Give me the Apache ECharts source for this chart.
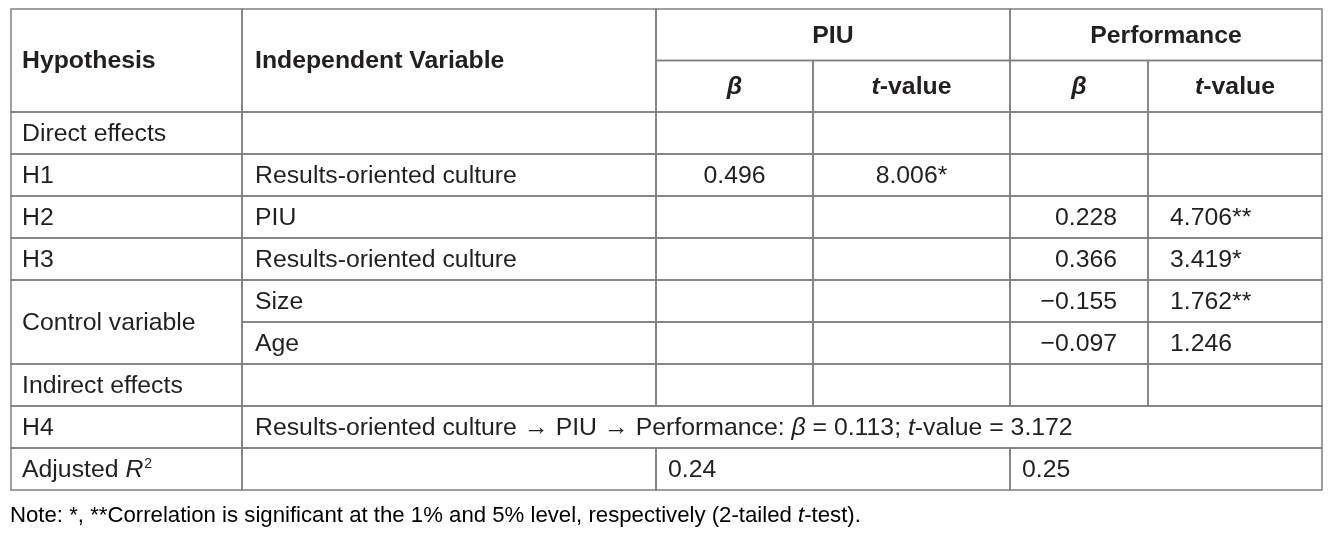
<!DOCTYPE html>
<html><head><meta charset="utf-8">
<script src="https://cdn.jsdelivr.net/npm/echarts@6/dist/echarts.min.js"></script>
<style>html,body{margin:0;padding:0;background:#fff}#c{width:1341px;height:535px}</style>
</head><body><div id="c"></div>
<script>
// ---------------- data ----------------
const stubHeaders = ['Hypothesis', 'Independent Variable'];
const groupHeaders = ['PIU', 'Performance'];
const statHeaders = ['{bi|β}', '{bi|t}{b|-value}'];
const rowLabels = ['Direct effects', 'H1', 'H2', 'H3', 'Control variable', null, 'Indirect effects', 'H4', 'Adjusted {i|R}{sup|2}'];
const rowLabelSpans = [1, 1, 1, 1, 2, 0, 1, 1, 1];
const independentVars = ['', 'Results-oriented culture', 'PIU', 'Results-oriented culture', 'Size', 'Age', ''];
const piuBeta = [null, 0.496, null, null, null, null, null];
const piuT = [null, 8.006, null, null, null, null, null];
const piuTSig = ['', '*', '', '', '', '', ''];
const perfBeta = [null, null, 0.228, 0.366, -0.155, -0.097, null];
const perfT = [null, null, 4.706, 3.419, 1.762, 1.246, null];
const perfTSig = ['', '', '**', '*', '**', '', ''];
const indirectPath = ['Results-oriented culture', 'PIU', 'Performance'];
const indirectBeta = 0.113;
const indirectT = 3.172;
const adjustedR2 = [0.24, 0.25];
const noteText = 'Note: *, **Correlation is significant at the 1% and 5% level, respectively (2-tailed {i|t}-test).';

// ---------------- layout / style ----------------
const colWidths = [231, 414, 157, 197, 138, 174];
const headerRowH = 51.5, bodyRowH = 42;
const LINE = '#808080', INK = '#231f20';
const FONT = 'Liberation Sans, Arial, Helvetica, sans-serif';
const FS = 24.8;

const xEdges = [0]; colWidths.forEach(w => xEdges.push(xEdges[xEdges.length - 1] + w));
const nBody = rowLabels.length;
const yEdges = [0, headerRowH, 2 * headerRowH];
for (let i = 0; i < nBody; i++) yEdges.push(yEdges[yEdges.length - 1] + bodyRowH);

const fmt = v => (v == null ? '' : (v < 0 ? '\u2212' : '') + Math.abs(v).toFixed(3));
const fmt2 = v => v.toFixed(2);

const rich = {
  b: { fontFamily: FONT, fontSize: FS, fontWeight: 'bold', color: INK },
  bi: { fontFamily: FONT, fontSize: FS, fontWeight: 'bold', fontStyle: 'italic', color: INK },
  n: { fontFamily: FONT, fontSize: FS, color: INK },
  i: { fontFamily: FONT, fontSize: FS, fontStyle: 'italic', color: INK },
  ar: { fontFamily: 'Liberation Serif, DejaVu Serif, serif', fontSize: 25, color: INK },
  sup: { fontFamily: FONT, fontSize: 14, color: INK, verticalAlign: 'top', padding: [0, 0, 0, 1] }
};

const cells = [];
function cell(c0, c1, r0, r1, text, align, pad, bold) {
  cells.push({ c0, c1, r0, r1, text: text || '', align: align || 'left', pad: pad == null ? 12 : pad, bold: !!bold });
}
// header
cell(0, 1, 0, 2, stubHeaders[0], 'left', 11, true);
cell(1, 2, 0, 2, stubHeaders[1], 'left', 13, true);
cell(2, 4, 0, 1, groupHeaders[0], 'center', 0, true);
cell(4, 6, 0, 1, groupHeaders[1], 'center', 0, true);
for (let g = 0; g < 2; g++) {
  cell(2 + 2 * g, 3 + 2 * g, 1, 2, statHeaders[0], 'center', 0);
  cell(3 + 2 * g, 4 + 2 * g, 1, 2, statHeaders[1], 'center', 0);
}
// body
for (let i = 0; i < nBody; i++) {
  const r = i + 2;
  if (rowLabelSpans[i] > 0) cell(0, 1, r, r + rowLabelSpans[i], rowLabels[i], 'left', 11);
  if (i < independentVars.length) {
    cell(1, 2, r, r + 1, independentVars[i], 'left', 13);
    cell(2, 3, r, r + 1, fmt(piuBeta[i]), 'center', 0);
    cell(3, 4, r, r + 1, piuT[i] == null ? '' : fmt(piuT[i]) + piuTSig[i], 'center', 0);
    cell(4, 5, r, r + 1, fmt(perfBeta[i]), 'right', 31);
    cell(5, 6, r, r + 1, perfT[i] == null ? '' : fmt(perfT[i]) + perfTSig[i], 'left', 22);
  }
}
// indirect effect row (H4)
const rH4 = 2 + rowLabels.indexOf('H4');
cell(1, 6, rH4, rH4 + 1, indirectPath.join(' {ar|\u2192} ') + ': {i|β} = ' + fmt(indirectBeta) + '; {i|t}-value = ' + fmt(indirectT), 'left', 13);
// adjusted R2 row
const rR2 = 2 + nBody - 1;
cell(1, 2, rR2, rR2 + 1, '', 'left', 13);
cell(2, 4, rR2, rR2 + 1, fmt2(adjustedR2[0]), 'left', 12);
cell(4, 6, rR2, rR2 + 1, fmt2(adjustedR2[1]), 'left', 12);

function wrapRich(t, bold) {
  const base = bold ? 'b' : 'n';
  return t.split(/(\{[a-z]+\|[^}]*\})/).filter(s => s.length).map(s => s.startsWith('{') ? s : '{' + base + '|' + s + '}').join('');
}

const chart = echarts.init(document.getElementById('c'), null, { renderer: 'canvas' });
chart.setOption({
  animation: false,
  backgroundColor: '#fff',
  grid: { left: 11, right: 19, top: 9, bottom: 45 },
  xAxis: { type: 'value', min: 0, max: xEdges[xEdges.length - 1], show: false },
  yAxis: { type: 'value', min: 0, max: yEdges[yEdges.length - 1], inverse: true, show: false },
  series: [{
    type: 'custom',
    coordinateSystem: 'cartesian2d',
    clip: false,
    encode: { x: [0, 2], y: [1, 3] },
    data: cells.map(c => [xEdges[c.c0], yEdges[c.r0], xEdges[c.c1], yEdges[c.r1]]),
    renderItem: function (params, api) {
      const c = cells[params.dataIndex];
      const p0 = api.coord([api.value(0), api.value(1)]);
      const p1 = api.coord([api.value(2), api.value(3)]);
      const x = p0[0], y = p0[1], w = p1[0] - p0[0], h = p1[1] - p0[1];
      const tx = c.align === 'left' ? x + c.pad : c.align === 'right' ? x + w - c.pad : x + w / 2;
      return {
        type: 'group',
        children: [
          { type: 'rect', shape: { x: x, y: y, width: w, height: h }, style: { fill: 'rgba(0,0,0,0)', stroke: LINE, lineWidth: 1.5 } },
          { type: 'text', style: { x: tx, y: y + h / 2 + 1, text: wrapRich(c.text, c.bold), rich: rich, align: c.align, verticalAlign: 'middle', fill: INK } }
        ]
      };
    }
  }],
  graphic: [{
    type: 'text', left: 10, top: 505,
    style: { text: wrapRich(noteText, false), rich: {
      n: { fontFamily: FONT, fontSize: 22.2, color: INK },
      i: { fontFamily: FONT, fontSize: 22.2, fontStyle: 'italic', color: INK }
    } }
  }]
});
</script></body></html>
